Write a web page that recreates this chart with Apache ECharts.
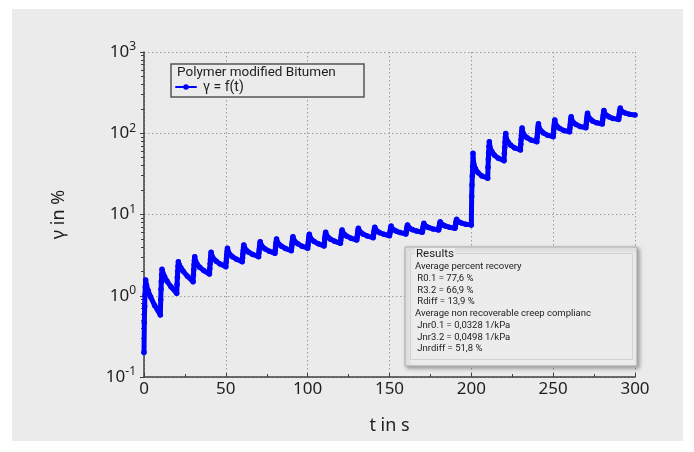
<!DOCTYPE html>
<html>
<head>
<meta charset="utf-8">
<script src="https://cdn.jsdelivr.net/npm/echarts@6/dist/echarts.min.js"></script>
<style>
  html, body { margin: 0; padding: 0; background: #ffffff; }
  #bg { position: absolute; left: 12px; top: 9px; width: 671px; height: 432px; background: #ebebeb; }
  #chart { position: absolute; left: 0; top: 0; width: 694px; height: 452px; }
</style>
</head>
<body>
<div id="bg"></div>
<div id="chart"></div>
<script>
// ---------- data ----------
const cyclePeriod = 10; // s
// time offsets (s) within each 10 s creep/recovery cycle at which values were read
const cycleOffsets = [0, 0.2, 0.4, 0.6, 0.8, 1.0, 1.5, 2.5, 4, 6.5];
// shear strain γ in % for the 20 cycles at 0.1 kPa (one row per cycle)
const lowStressCycles = [
  [0.2, 0.47, 0.74, 1.02, 1.29, 1.56, 1.35, 1.16, 0.97, 0.76],
  [0.58, 0.89, 1.20, 1.50, 1.81, 2.12, 1.91, 1.73, 1.52, 1.29],
  [1.07, 1.38, 1.69, 2.00, 2.31, 2.62, 2.41, 2.21, 2.00, 1.74],
  [1.49, 1.80, 2.11, 2.41, 2.72, 3.03, 2.68, 2.44, 2.25, 2.04],
  [1.85, 2.17, 2.48, 2.80, 3.11, 3.43, 3.09, 2.86, 2.67, 2.46],
  [2.28, 2.59, 2.90, 3.22, 3.53, 3.84, 3.47, 3.23, 3.03, 2.82],
  [2.62, 2.94, 3.26, 3.58, 3.90, 4.22, 3.86, 3.63, 3.43, 3.22],
  [3.03, 3.35, 3.67, 3.99, 4.31, 4.63, 4.24, 3.98, 3.77, 3.54],
  [3.33, 3.66, 3.99, 4.33, 4.66, 4.99, 4.57, 4.29, 4.06, 3.81],
  [3.58, 3.93, 4.28, 4.63, 4.98, 5.33, 4.88, 4.59, 4.35, 4.08],
  [3.84, 4.21, 4.58, 4.96, 5.33, 5.70, 5.22, 4.90, 4.64, 4.36],
  [4.10, 4.49, 4.88, 5.26, 5.65, 6.04, 5.55, 5.23, 4.97, 4.68],
  [4.42, 4.82, 5.23, 5.63, 6.04, 6.44, 5.96, 5.65, 5.39, 5.10],
  [4.85, 5.23, 5.61, 5.99, 6.38, 6.76, 6.29, 5.97, 5.72, 5.43],
  [5.18, 5.53, 5.89, 6.24, 6.60, 6.95, 6.51, 6.22, 5.98, 5.72],
  [5.48, 5.83, 6.18, 6.52, 6.87, 7.22, 6.78, 6.49, 6.25, 5.99],
  [5.75, 6.09, 6.42, 6.76, 7.09, 7.43, 7.01, 6.74, 6.51, 6.26],
  [6.04, 6.39, 6.74, 7.08, 7.43, 7.78, 7.38, 7.11, 6.90, 6.65],
  [6.44, 6.78, 7.12, 7.47, 7.81, 8.15, 7.73, 7.46, 7.23, 6.98],
  [6.76, 7.15, 7.55, 7.94, 8.34, 8.73, 8.33, 8.07, 7.85, 7.61]
];
// shear strain γ in % for the 10 cycles at 3.2 kPa
const highStressCycles = [
  [7.4, 16.6, 23.1, 29.8, 39.0, 56.6, 41.5, 36.5, 32.8, 29.8],
  [27.9, 38.1, 48.2, 58.4, 68.5, 78.7, 66.0, 59.5, 54.0, 49.2],
  [45.9, 56.5, 67.1, 77.8, 88.4, 99, 84.5, 77.5, 71.5, 65.9],
  [62.2, 73.0, 83.7, 94.5, 105.2, 116, 101.5, 94.0, 88.2, 82.4],
  [78.7, 89.2, 99.6, 110.1, 120.5, 131, 115.0, 107.5, 101.0, 94.8],
  [90.8, 101.8, 112.9, 123.9, 135.0, 146, 129.5, 121.5, 114.8, 108.2],
  [104, 115.2, 126.4, 137.6, 148.8, 160, 143.0, 134.8, 128.0, 121.3],
  [117, 128.8, 140.6, 152.4, 164.2, 176, 158.0, 149.3, 141.8, 134.6],
  [130, 142.2, 154.4, 166.6, 178.8, 191, 174.0, 166.0, 159.2, 152.3],
  [148, 159.2, 170.4, 181.6, 192.8, 204, 190.0, 183.0, 177.2, 171.6]
];
const finalPoint = [300, 168];

const yExponents = ['-1', '0', '1', '2', '3'];
const seriesName = 'γ = f(t)';
const legendTitle = 'Polymer modified Bitumen';
const resultsTitle = 'Results';
const resultsLines = [
  'Average percent recovery',
  ' R0.1 = 77,6 %',
  ' R3.2 = 66,9 %',
  ' Rdiff = 13,9 %',
  'Average non recoverable creep complianc',
  ' Jnr0.1 = 0,0328 1/kPa',
  ' Jnr3.2 = 0,0498 1/kPa',
  ' Jnrdiff = 51,8 %'
];

// ---------- build ----------
const allCycles = lowStressCycles.concat(highStressCycles);
const seriesData = [];
allCycles.forEach((row, c) => {
  row.forEach((v, j) => seriesData.push([c * cyclePeriod + cycleOffsets[j], v]));
});
seriesData.push(finalPoint);

// minor tick positions (log10 space) for 2..9 within each decade
const minorLog = [];
for (let d = -1; d < 3; d++) for (let k = 2; k <= 9; k++) minorLog.push(Math.log10(k) + d);

const FONT = 'Noto Sans';
const FONT2 = 'Roboto';
const TXT = '#1e1e1e';
const AX = '#404040';
const gridDot = { color: '#9c9c9c', width: 1, type: [1.5, 2.5] };

const chart = echarts.init(document.getElementById('chart'), null, { renderer: 'canvas' });

const resultsGraphics = [
  { type: 'rect', z: 10, shape: { x: 405, y: 247, width: 232, height: 119 },
    style: { fill: '#ececec', stroke: '#a9a9a9', lineWidth: 1,
             shadowBlur: 4, shadowOffsetX: 2, shadowOffsetY: 2, shadowColor: 'rgba(0,0,0,0.35)' } },
  { type: 'rect', z: 11, shape: { x: 410.5, y: 253.5, width: 222, height: 106 },
    style: { fill: 'none', stroke: '#d2d2d2', lineWidth: 1 } },
  { type: 'text', z: 12, x: 415, y: 254,
    style: { text: resultsTitle, font: '11.5px "' + FONT2 + '"', fill: '#222',
             verticalAlign: 'middle', backgroundColor: '#ececec', padding: [0, 1, 0, 1] } }
];
resultsLines.forEach((s, i) => {
  resultsGraphics.push({ type: 'text', z: 12, x: 415, y: 266.7 + i * 11.75,
    style: { text: s, font: '9.5px "' + FONT2 + '"', fill: '#222', verticalAlign: 'middle' } });
});

const option = {
  backgroundColor: 'transparent',
  animation: false,
  textStyle: { fontFamily: FONT },
  grid: { left: 144, top: 52, width: 491, height: 325, containLabel: false },
  xAxis: {
    type: 'value', min: 0, max: 300, interval: 50,
    name: 't in s', nameLocation: 'middle', nameGap: 40,
    nameTextStyle: { fontSize: 18, color: TXT, fontFamily: FONT },
    axisLine: { onZero: false, lineStyle: { color: AX, width: 1.5 } },
    axisTick: { inside: true, length: 4, lineStyle: { color: AX } },
    minorTick: { show: true, splitNumber: 2, length: 3, lineStyle: { color: AX } },
    axisLabel: { fontSize: 17, color: TXT, margin: 4, fontFamily: FONT },
    splitLine: { show: true, lineStyle: gridDot }
  },
  yAxis: [
    {
      type: 'log', logBase: 10, min: 0.1, max: 1000,
      name: 'γ in %', nameLocation: 'middle', nameGap: 76, nameRotate: 90,
      nameTextStyle: { fontSize: 18, color: TXT, fontFamily: FONT },
      axisLine: { show: true, onZero: false, lineStyle: { color: AX, width: 1.5 } },
      axisTick: { show: true, length: 4, lineStyle: { color: AX } },
      axisLabel: {
        margin: 8,
        formatter: (v) => {
          const e = Math.round(Math.log10(v));
          const lab = yExponents.find(s => Number(s) === e);
          return '{b|10}{s|' + (lab !== undefined ? lab : e) + '}';
        },
        rich: {
          b: { fontSize: 17, color: TXT, fontFamily: FONT, lineHeight: 22 },
          s: { fontSize: 12, color: TXT, fontFamily: FONT, verticalAlign: 'top', lineHeight: 12 }
        }
      },
      splitLine: { show: true, lineStyle: gridDot }
    },
    {
      type: 'value', min: -1, max: 3, position: 'left',
      axisLine: { show: false, onZero: false },
      axisLabel: { show: false },
      splitLine: { show: false },
      axisTick: { show: true, length: 3, customValues: minorLog, lineStyle: { color: AX } }
    }
  ],
  legend: {
    left: 175, top: 80, z: 20,
    data: [seriesName],
    itemWidth: 20, itemHeight: 7, padding: 0,
    textStyle: { fontSize: 14, color: TXT, fontFamily: FONT2, padding: [0, 0, 0, 2] }
  },
  graphic: [
    { type: 'rect', z: 10, shape: { x: 171, y: 64, width: 193, height: 33 },
      style: { fill: '#ebebeb', stroke: '#555555', lineWidth: 1.5 } },
    { type: 'text', z: 12, x: 177, y: 73,
      style: { text: legendTitle, font: '13.5px "' + FONT2 + '"', fill: TXT, verticalAlign: 'middle' } }
  ].concat(resultsGraphics),
  series: [{
    name: seriesName, type: 'line', yAxisIndex: 0,
    data: seriesData,
    symbol: 'circle', symbolSize: 5.5, showSymbol: true,
    lineStyle: { color: '#0000ff', width: 5, join: 'round', cap: 'round' },
    itemStyle: { color: '#0000ff' },
    z: 3
  }]
};
chart.setOption(option);
</script>
</body>
</html>
